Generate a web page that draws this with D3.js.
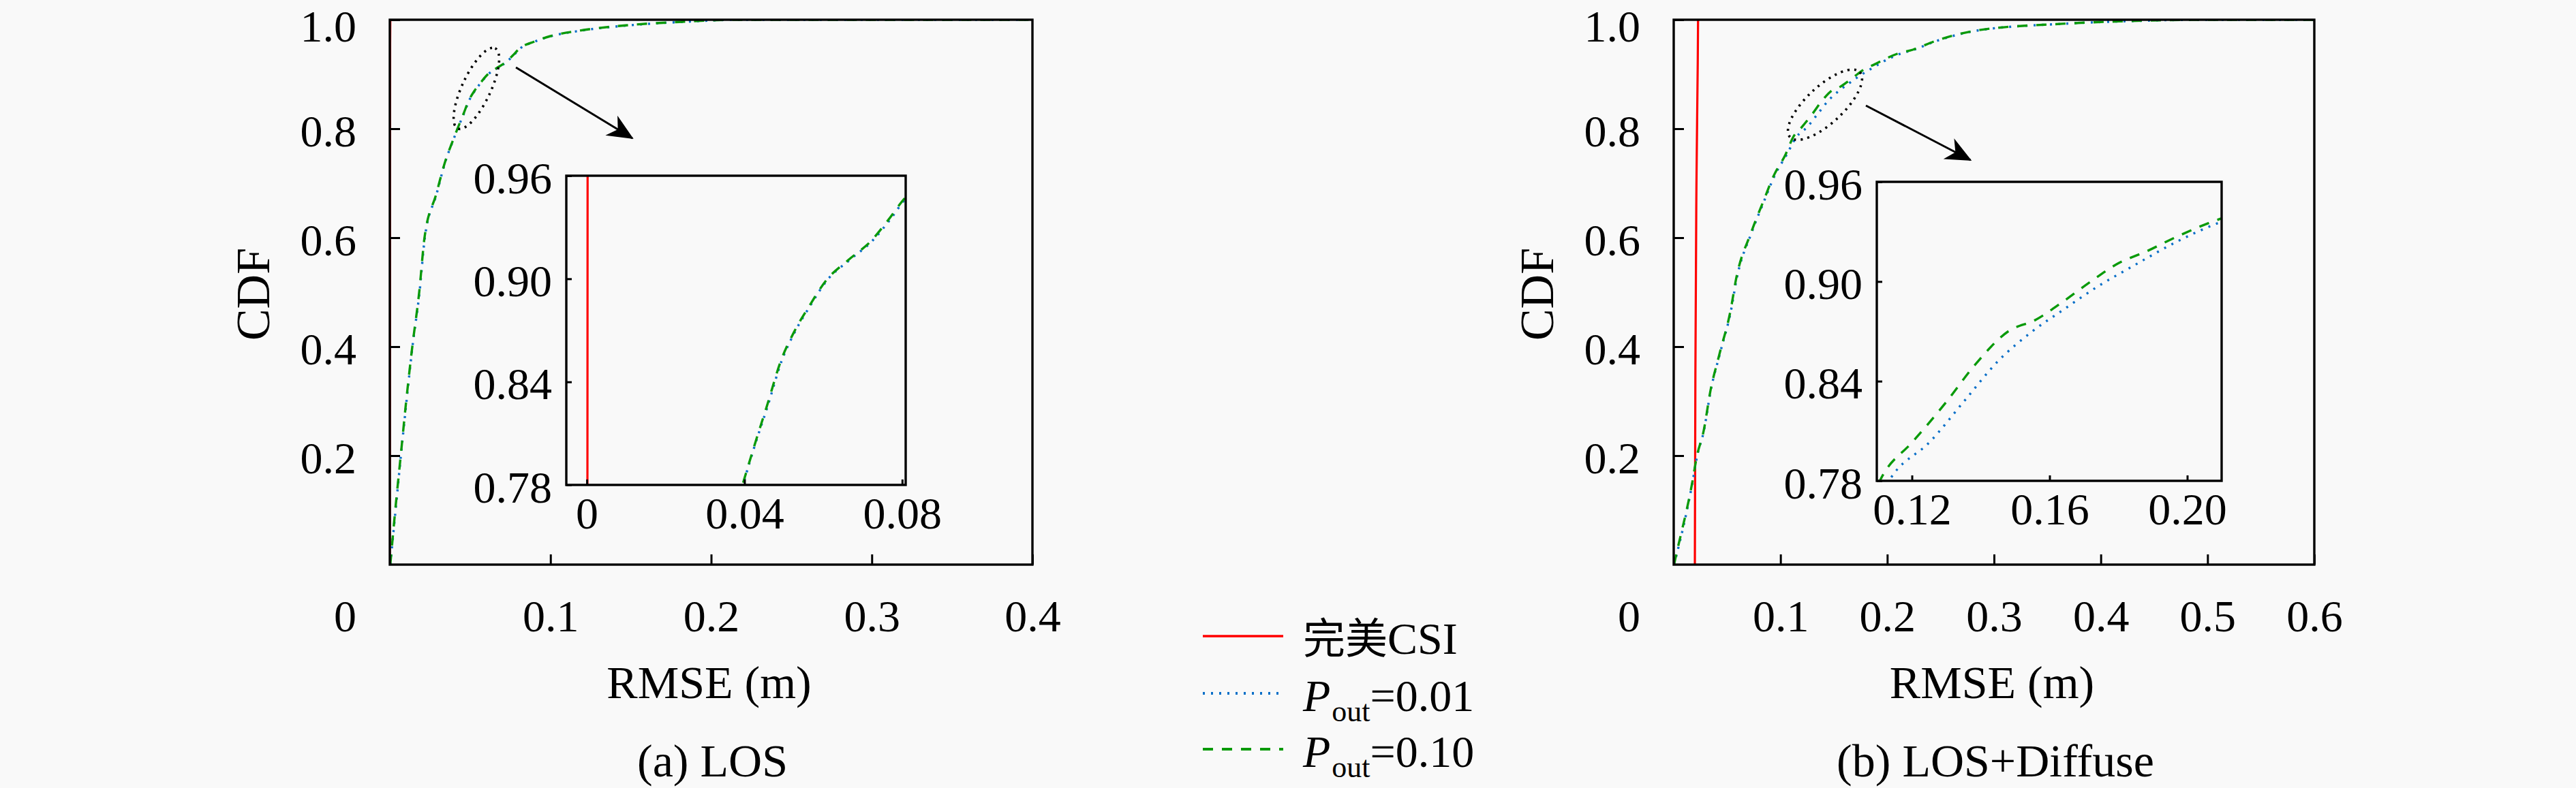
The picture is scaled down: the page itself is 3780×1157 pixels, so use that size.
<!DOCTYPE html>
<html>
<head>
<meta charset="utf-8">
<script src="https://cdn.jsdelivr.net/npm/d3@7"></script>
<style>
  body { margin: 0; background: #f9f9f9; }
  svg { display: block; }
</style>
</head>
<body>
<svg id="chart" width="3780" height="1157"></svg>
<script>
// ---- data ----
// (a) LOS
var losP010Rmse = [0.0003, 0.0034, 0.0068, 0.0102, 0.0140, 0.0183, 0.0216, 0.0289, 0.0345, 0.0395,
                   0.0428, 0.0457, 0.0492, 0.0528, 0.0564, 0.0607, 0.0664, 0.0721, 0.0764, 0.0807,
                   0.0900, 0.1000, 0.1180, 0.1480, 0.1800, 0.2150, 0.4000];
var losP010Cdf  = [0, 0.10, 0.20, 0.30, 0.40, 0.50, 0.60, 0.68, 0.74, 0.78,
                   0.805, 0.826, 0.852, 0.870, 0.884, 0.899, 0.911, 0.922, 0.934, 0.947,
                   0.960, 0.970, 0.980, 0.990, 0.996, 1.0, 1.0];
var losP001Rmse = [0.0003, 0.0036, 0.0069, 0.0104, 0.0141, 0.0185, 0.0218, 0.0291, 0.0346, 0.0396,
                   0.0429, 0.0459, 0.0494, 0.0530, 0.0566, 0.0609, 0.0667, 0.0724, 0.0768, 0.0810,
                   0.0903, 0.1005, 0.1190, 0.1500, 0.1820, 0.2180, 0.4000];
var losP001Cdf  = losP010Cdf.slice();
var losPerfectRmse = [0.0000, 0.0001, 0.0002, 0.0003];
var losPerfectCdf  = [0, 0.50, 0.957, 1.0];

// (b) LOS+Diffuse
var difP010Rmse = [0.0003, 0.0013, 0.0172, 0.0217, 0.0280, 0.0345, 0.0428, 0.0536, 0.0580, 0.0728,
                   0.0836, 0.0940, 0.1047, 0.1120, 0.1200, 0.1300, 0.1380, 0.1480, 0.1560, 0.1640,
                   0.1720, 0.1800, 0.1880, 0.1970, 0.2100, 0.2240, 0.2450, 0.2850, 0.3640, 0.4170,
                   0.5000, 0.6000];
var difP010Cdf  = [0, 0.009, 0.149, 0.199, 0.245, 0.320, 0.386, 0.470, 0.520, 0.611,
                   0.665, 0.715, 0.7525, 0.785, 0.803, 0.8275, 0.849, 0.870, 0.877, 0.888,
                   0.900, 0.911, 0.918, 0.927, 0.938, 0.945, 0.961, 0.9807, 0.9926, 0.997,
                   1.0, 1.0];
var difP001Rmse = [0.0003, 0.0015, 0.0174, 0.0219, 0.0282, 0.0347, 0.0431, 0.0540, 0.0585, 0.0733,
                   0.0842, 0.0948, 0.1058, 0.1150, 0.1250, 0.1350, 0.1450, 0.1550, 0.1640, 0.1740,
                   0.1840, 0.1970, 0.2100, 0.2250, 0.2460, 0.2860, 0.3650, 0.4180, 0.5020, 0.6000];
var difP001Cdf  = [0, 0.009, 0.149, 0.199, 0.245, 0.320, 0.386, 0.470, 0.520, 0.611,
                   0.665, 0.715, 0.7525, 0.785, 0.803, 0.8275, 0.852, 0.870, 0.883, 0.897,
                   0.909, 0.924, 0.936, 0.945, 0.961, 0.9807, 0.9926, 0.997, 1.0, 1.0];
var difPerfectRmse = [0.0198, 0.0203, 0.0213, 0.0225, 0.0228];
var difPerfectCdf  = [0, 0.35, 0.70, 0.92, 1.0];

// ticks
var cdfTicks = [0.2, 0.4, 0.6, 0.8, 1.0];
var insetCdfTicks = [0.78, 0.84, 0.90, 0.96];
var losRmseTicks = [0.1, 0.2, 0.3, 0.4];
var difRmseTicks = [0.1, 0.2, 0.3, 0.4, 0.5, 0.6];
var losInsetTicks = [0, 0.04, 0.08];
var difInsetTicks = [0.12, 0.16, 0.20];

// zoom marks (data coords)
var losZoomCenter = [0.0539, 0.874];
var losArrow = [[0.0785, 0.9125], [0.151, 0.7825]];
var difZoomCenter = [0.1417, 0.844];
var difArrow = [[0.180, 0.8425], [0.278, 0.7425]];

var legendNames = ["完美CSI", "0.01", "0.10"];
var captions = ["(a) LOS", "(b) LOS+Diffuse"];

// ---- styles ----
var serif = "Liberation Serif, Tinos, DejaVu Serif, serif";
var cjk = "Noto Sans CJK SC, sans-serif";
var bg = "#f9f9f9";
var styles = [
  { color: "#ff0000", dash: null, width: 3.2 },
  { color: "#0a6fc8", dash: "3,9", width: 3.4 },
  { color: "#0a9a0a", dash: "15,13", width: 3.4 }
];

var svg = d3.select("#chart");
svg.append("rect").attr("width", 3780).attr("height", 1157).attr("fill", bg);

var defs = svg.append("defs");
defs.append("marker")
    .attr("id", "head")
    .attr("markerUnits", "userSpaceOnUse")
    .attr("viewBox", "-40 -20 44 40")
    .attr("markerWidth", 44).attr("markerHeight", 40)
    .attr("refX", 0).attr("refY", 0)
    .attr("orient", "auto")
  .append("path")
    .attr("d", "M2,0 L-36,-17 L-25,0 L-36,17 Z")
    .attr("fill", "#000");

var panels = [
  {
    id: "los", left: 572, right: 1515, top: 29, bottom: 829, xMax: 0.4, xTicks: losRmseTicks,
    series: [[losPerfectRmse, losPerfectCdf], [losP001Rmse, losP001Cdf], [losP010Rmse, losP010Cdf]],
    inset: { left: 831, right: 1329, top: 258, bottom: 712, domain: [-0.0052, 0.0809], ticks: losInsetTicks },
    zoom: losZoomCenter, rx: 65, ry: 21, angle: -65, arrow: losArrow, caption: captions[0]
  },
  {
    id: "dif", left: 2456, right: 3396, top: 29, bottom: 829, xMax: 0.6, xTicks: difRmseTicks,
    series: [[difPerfectRmse, difPerfectCdf], [difP001Rmse, difP001Cdf], [difP010Rmse, difP010Cdf]],
    inset: { left: 2754, right: 3260, top: 267, bottom: 706, domain: [0.1098, 0.2100], ticks: difInsetTicks },
    zoom: difZoomCenter, rx: 70, ry: 27, angle: -43, arrow: difArrow, caption: captions[1]
  }
];

function styleAxis(g, size) {
  g.select(".domain").remove();
  g.attr("font-family", null).attr("font-size", null);
  g.selectAll(".tick line").attr("stroke", "#000").attr("stroke-width", 3);
  g.selectAll(".tick text").attr("fill", "#000")
      .style("font-family", serif).style("font-size", size + "px");
}

function label(sel) {
  return sel.style("font-family", serif);
}

function drawSeries(g, x, y, series) {
  var line = d3.line()
      .x(function (d) { return x(d[0]); })
      .y(function (d) { return y(d[1]); })
      .curve(d3.curveMonotoneX);
  series.forEach(function (s, i) {
    var pts = d3.zip(s[0], s[1]);
    g.append("path")
        .datum(pts)
        .attr("d", line)
        .attr("fill", "none")
        .attr("stroke", styles[i].color)
        .attr("stroke-width", styles[i].width)
        .attr("stroke-dasharray", styles[i].dash);
  });
}

panels.forEach(function (p) {
  var x = d3.scaleLinear().domain([0, p.xMax]).range([p.left, p.right]);
  var y = d3.scaleLinear().domain([0, 1]).range([p.bottom, p.top]);

  svg.append("clipPath").attr("id", "clip-" + p.id)
    .append("rect").attr("x", p.left).attr("y", p.top)
    .attr("width", p.right - p.left).attr("height", p.bottom - p.top);

  var plot = svg.append("g").attr("clip-path", "url(#clip-" + p.id + ")");
  // red first, then blue, then green on top
  drawSeries(plot, x, y, p.series);

  // axes (ticks point inward)
  var ya = svg.append("g").attr("transform", "translate(" + p.left + ",0)")
      .call(d3.axisLeft(y).tickValues(cdfTicks).tickFormat(d3.format(".1f")).tickSize(-15).tickPadding(49));
  styleAxis(ya, 66);
  ya.selectAll(".tick text").attr("dy", function (d) { return d === 1 ? "0.47em" : "0.38em"; });

  var xa = svg.append("g").attr("transform", "translate(0," + p.bottom + ")")
      .call(d3.axisBottom(x).tickValues(p.xTicks).tickFormat(d3.format(".1f")).tickSize(-15).tickPadding(51));
  styleAxis(xa, 66);

  // corner zero
  label(svg.append("text")).attr("x", p.left - 49).attr("y", p.bottom + 98)
      .attr("text-anchor", "end").style("font-size", "66px").text("0");

  svg.append("rect").attr("x", p.left).attr("y", p.top)
      .attr("width", p.right - p.left).attr("height", p.bottom - p.top)
      .attr("fill", "none").attr("stroke", "#000").attr("stroke-width", 3.4);

  // axis titles
  label(svg.append("text"))
      .attr("transform", "translate(" + (p.left - 177) + "," + ((p.top + p.bottom) / 2 + 3) + ") rotate(-90)")
      .attr("text-anchor", "middle").style("font-size", "70px").text("CDF");
  label(svg.append("text")).attr("x", (p.left + p.right) / 2 - 3).attr("y", 1025)
      .attr("text-anchor", "middle").style("font-size", "68px").text("RMSE (m)");
  label(svg.append("text")).attr("x", (p.left + p.right) / 2 + 2).attr("y", 1140)
      .attr("text-anchor", "middle").style("font-size", "68px").text(p.caption);

  // zoom ellipse and arrow
  svg.append("ellipse")
      .attr("transform", "translate(" + x(p.zoom[0]) + "," + y(p.zoom[1]) + ") rotate(" + p.angle + ")")
      .attr("rx", p.rx).attr("ry", p.ry)
      .attr("fill", "none").attr("stroke", "#000").attr("stroke-width", 3.6)
      .attr("stroke-dasharray", "3,7");
  svg.append("line")
      .attr("x1", x(p.arrow[0][0])).attr("y1", y(p.arrow[0][1]))
      .attr("x2", x(p.arrow[1][0])).attr("y2", y(p.arrow[1][1]))
      .attr("stroke", "#000").attr("stroke-width", 3)
      .attr("marker-end", "url(#head)");

  // inset
  var q = p.inset;
  var xi = d3.scaleLinear().domain(q.domain).range([q.left, q.right]);
  var yi = d3.scaleLinear().domain([0.78, 0.96]).range([q.bottom, q.top]);

  svg.append("rect").attr("x", q.left).attr("y", q.top)
      .attr("width", q.right - q.left).attr("height", q.bottom - q.top).attr("fill", bg);
  svg.append("clipPath").attr("id", "clipi-" + p.id)
    .append("rect").attr("x", q.left).attr("y", q.top)
    .attr("width", q.right - q.left).attr("height", q.bottom - q.top);
  var iplot = svg.append("g").attr("clip-path", "url(#clipi-" + p.id + ")");
  drawSeries(iplot, xi, yi, p.series);

  var fmtInset = function (d) { return d === 0 ? "0" : d3.format(".2f")(d); };
  var yia = svg.append("g").attr("transform", "translate(" + q.left + ",0)")
      .call(d3.axisLeft(yi).tickValues(insetCdfTicks).tickFormat(d3.format(".2f")).tickSize(-8).tickPadding(21));
  styleAxis(yia, 66);
  yia.selectAll(".tick text").attr("dy", "0.38em");
  var xia = svg.append("g").attr("transform", "translate(0," + q.bottom + ")")
      .call(d3.axisBottom(xi).tickValues(q.ticks).tickFormat(fmtInset).tickSize(-8).tickPadding(17));
  styleAxis(xia, 66);

  svg.append("rect").attr("x", q.left).attr("y", q.top)
      .attr("width", q.right - q.left).attr("height", q.bottom - q.top)
      .attr("fill", "none").attr("stroke", "#000").attr("stroke-width", 3.4);
});

// ---- legend ----
var legendRowY = [934, 1018, 1100];
var legend = svg.append("g");
legendNames.forEach(function (name, i) {
  var yy = legendRowY[i];
  legend.append("line")
      .attr("x1", 1765).attr("x2", 1883).attr("y1", yy).attr("y2", yy)
      .attr("stroke", styles[i].color).attr("stroke-width", styles[i].width + 0.4)
      .attr("stroke-dasharray", styles[i].dash);
  var t = label(legend.append("text")).attr("x", 1912).attr("y", yy + 26)
      .style("font-size", "66px");
  if (i === 0) {
    t.append("tspan").style("font-family", cjk).style("font-size", "62px").text("完美");
    t.append("tspan").text("CSI");
  } else {
    t.append("tspan").style("font-style", "italic").text("P");
    t.append("tspan").style("font-size", "44px").attr("dy", 15).attr("dx", 2).text("out");
    t.append("tspan").attr("dy", -15).text("=" + name);
  }
});
</script>
</body>
</html>
